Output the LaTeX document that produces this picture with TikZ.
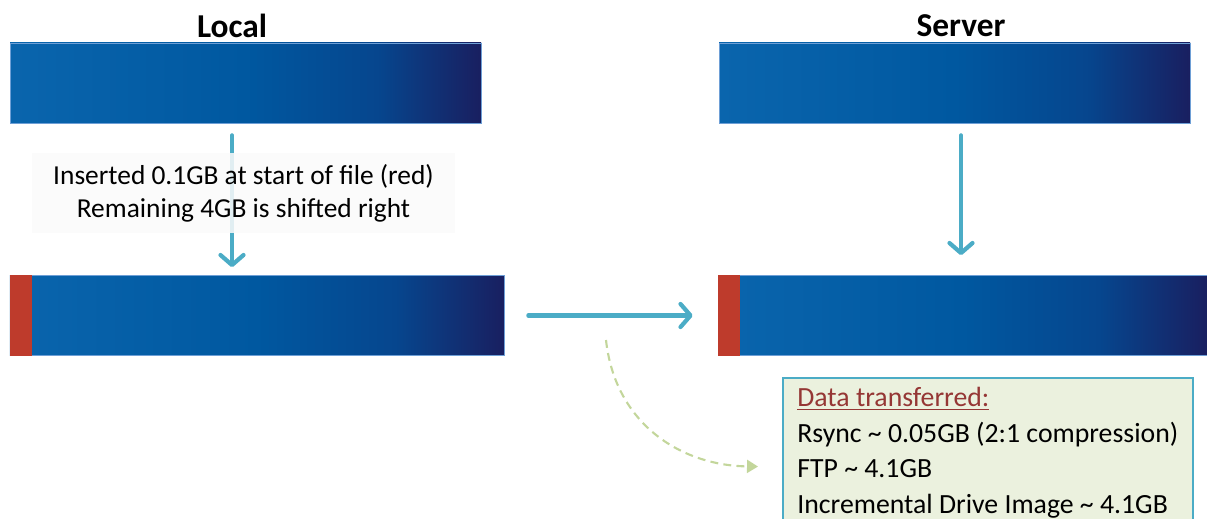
\documentclass[tikz,border=0pt]{standalone}
\usepackage{fontspec}
\setmainfont{Carlito}
\usetikzlibrary{arrows.meta}

\definecolor{barleft}{HTML}{0A65AD}
\definecolor{barmid}{HTML}{0058A0}
\definecolor{bardeep}{HTML}{06468E}
\definecolor{barright}{HTML}{191F60}
% the path covers 25bp..75bp of the shading
\pgfdeclarehorizontalshading{filebar}{100bp}{color(0bp)=(barleft); color(25bp)=(barleft);
  color(50bp)=(barmid); color(64bp)=(bardeep); color(75bp)=(barright); color(100bp)=(barright)}

\begin{document}
\begin{tikzpicture}[
  filebar/.style={rectangle,inner sep=0,minimum height=1.6cm,draw=barline,line width=0.4pt,
    shading=filebar},
  redpart/.style={rectangle,inner sep=0,minimum height=1.6cm,minimum width=0.44cm,fill=insred},
  flow/.style={draw=flowblue,line width=2.4pt,line cap=round,
    -{Straight Barb[length=0.2cm,width=0.46cm,line cap=round,line join=round]}},
  hint/.style={draw=hintgreen,line width=1.2pt,dash pattern=on 4.5pt off 3pt,
    -{Triangle[length=0.22cm,width=0.26cm]}},
  side/.style={font=\fontsize{19}{22}\selectfont\bfseries}]
\definecolor{barline}{HTML}{6E9FD6}
\definecolor{insred}{HTML}{BE3B2C}
\definecolor{flowblue}{HTML}{4BACC6}
\definecolor{hintgreen}{HTML}{C3D69B}
\definecolor{notefill}{HTML}{EBF1DE}
\definecolor{notered}{HTML}{953735}
\useasboundingbox (0,0) rectangle (24.14,10.36);

% column headings
\node[side] (local) at (4.64,9.84) {Local};
\node[side] (server) at (19.22,9.84) {Server};

% files before the change
\foreach \nm/\x in {topL/4.91,topS/19.09}
  {\node[filebar,minimum width=9.42cm] (\nm) at (\x,8.70) {};}

% files after the change, with the inserted part at the front
\node[filebar,minimum width=9.88cm] (botL) at (5.14,4.05) {};
\node[filebar,minimum width=9.78cm] (botS) at (19.25,4.05) {};
\node[redpart,anchor=west] (insL) at (botL.west) {};
\node[redpart,anchor=west] (insS) at (botS.west) {};

\draw[flow,shorten <=0.24cm,shorten >=0.16cm] (local |- topL.south) -- (local |- botL.north);
\draw[flow,shorten <=0.24cm,shorten >=0.40cm] (server |- topS.south) -- (server |- botS.north);
\draw[flow,shorten <=0.48cm,shorten >=0.50cm] (botL.east) -- (botS.west);

\node[fill=black!2,fill opacity=0.86,text opacity=1,minimum width=8.46cm,minimum height=1.6cm,
  align=center,font=\fontsize{15.6}{18.8}\selectfont] (change) at (4.87,6.5)
  {Inserted 0.1GB at start of file (red)\\Remaining 4GB is shifted right};

% transfer totals
\node[draw=flowblue,line width=1pt,fill=notefill,minimum width=8.2cm,minimum height=3.56cm,
  inner sep=0,anchor=north west] (data) at (15.64,2.82) {};
\node[anchor=north west,align=left,inner sep=0,font=\fontsize{15.8}{20.2}\selectfont] (dataText)
  at ([shift={(0.3,-0.2)}]data.north west)
  {\textcolor{notered}{\underline{Data transferred:}}\\
   Rsync \textasciitilde\ 0.05GB (2:1 compression)\\
   FTP \textasciitilde\ 4.1GB\\
   Incremental Drive Image \textasciitilde\ 4.1GB};

\coordinate (hintStart) at (12.12,3.56);
\draw[hint,shorten >=0.48cm] (hintStart) .. controls (12.3,1.9) and (13.6,1.05) .. (data.west);
\end{tikzpicture}
\end{document}
